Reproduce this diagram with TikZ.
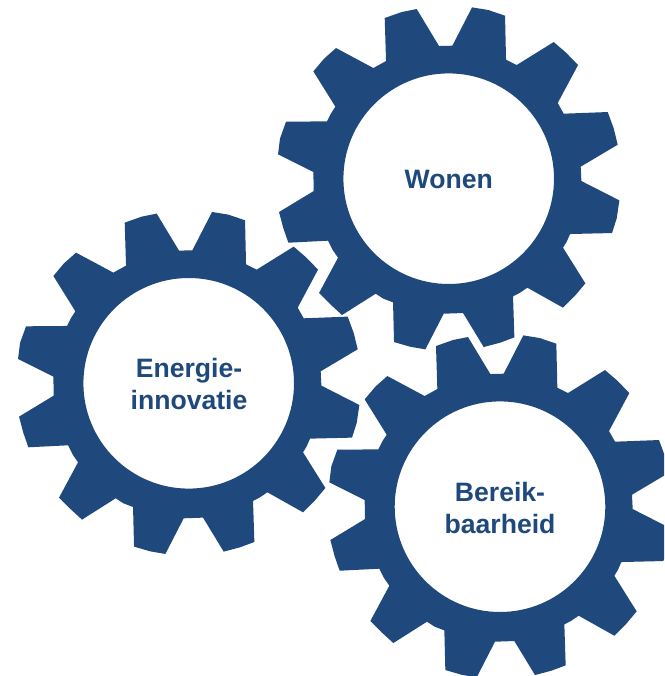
\documentclass[tikz,border=0pt]{standalone}
\usepackage{fontspec}
\setmainfont{Liberation Sans}
\definecolor{gearblue}{HTML}{1F497D}
\newcommand{\gearpath}{(344,54) -- (395,36) -- (440,27) -- (507,138) -- (547,137) -- (606,22) -- (655,30) -- (705,47) -- (708,179) -- (740,195) -- (851,126) -- (888,158) -- (924,195) -- (863,309) -- (881,341) -- (1013,336) -- (1031,385) -- (1043,434) -- (932,500) -- (934,543) -- (1048,601) -- (1040,655) -- (1026,699) -- (900,702) -- (890,725) -- (879,743) -- (946,850) -- (915,887) -- (879,923) -- (772,863) -- (750,878) -- (729,889) -- (733,1012) -- (690,1028) -- (641,1041) -- (579,939) -- (521,941) -- (466,1048) -- (420,1040) -- (372,1026) -- (369,907) -- (340,896) -- (317,881) -- (216,945) -- (180,912) -- (147,879) -- (204,773) -- (188,750) -- (174,722) -- (55,728) -- (40,685) -- (27,636) -- (131,573) -- (130,516) -- (24,463) -- (30,415) -- (48,365) -- (171,364) -- (183,340) -- (196,320) -- (130,214) -- (162,176) -- (198,144) -- (310,204) -- (348,183) -- cycle (536,536) circle [radius=105.3pt]}
\newcommand{\drawgear}[2]{\begin{scope}[shift={(#1pt,-#2pt)},x=0.33333pt,y=-0.33333pt,shift={(-536,-536)}]
\fill[gearfill] \gearpath;
\end{scope}}
\tikzset{
  gearfill/.style={fill=gearblue,even odd rule},
  gearlabel/.style={text=gearblue,font=\fontsize{26.6}{31.7}\selectfont\bfseries,align=center,inner sep=0pt}
}
\begin{document}
\begin{tikzpicture}[x=1pt,y=-1pt]
\useasboundingbox (0,0) rectangle (664,676);
\clip (0,0) rectangle (664,676);
\fill[white] (0,0) rectangle (664,676);
\drawgear{448.7}{178.7}
\drawgear{188.7}{383.3}
\drawgear{500}{506.7}
\node[gearlabel] (wonen) at (448.7,179.5) {Wonen};
\node[gearlabel] (energie) at (189,384.3) {Energie-\\innovatie};
\node[gearlabel] (bereik) at (500,507.8) {Bereik-\\baarheid};
\end{tikzpicture}
\end{document}
